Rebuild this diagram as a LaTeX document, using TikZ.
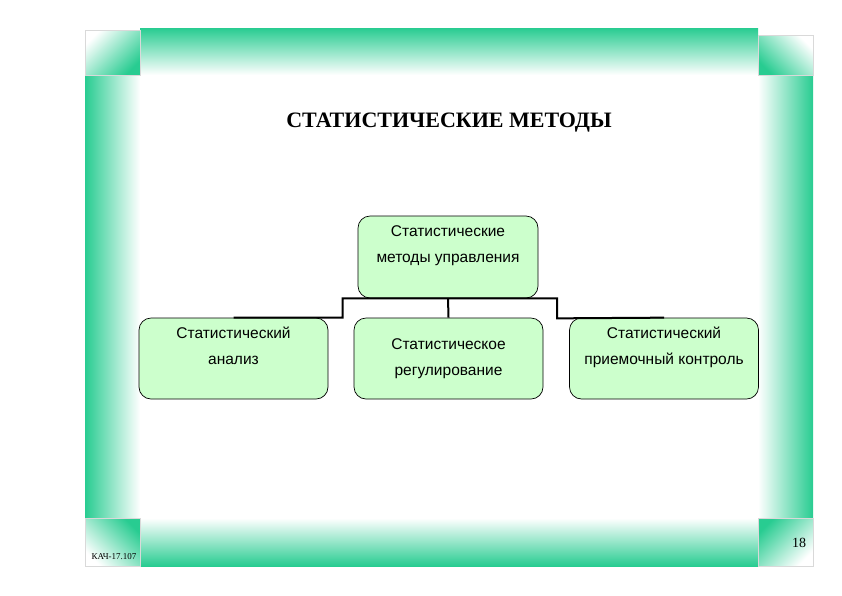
\documentclass[tikz,border=0pt]{standalone}
\usepackage{fontspec}
\setmainfont{Liberation Serif}
\setsansfont{Liberation Sans}
\usepackage{tikz}
\definecolor{framegreen}{RGB}{40,204,145}
\definecolor{boxgreen}{RGB}{204,255,204}
\tikzset{
    chart/.style={x=1pt, y=-1pt},
    chart box/.style={rounded corners=12pt, draw, fill=boxgreen, line width=0.7pt,
        align=center, font=\sffamily\fontsize{15.5}{26}\selectfont,
        minimum width=189pt, minimum height=81pt, inner sep=0pt},
    chart link/.style={line width=2pt},
    frame corner/.style={draw=black!15, line width=0.4pt},
}

\begin{document}
\begin{tikzpicture}[
        chart,
        topbox/.style={chart box, minimum width=180pt, minimum height=82pt},
        pagetext/.style={font=\fontsize{14}{16}\selectfont}
    ]
        \useasboundingbox (0,0) rectangle (842,595);

        % frame
        \shade[top color=framegreen, bottom color=white] (140,28) rectangle (758,75);
        \shade[top color=white, bottom color=framegreen] (140,518) rectangle (758,566);
        \shade[left color=framegreen, right color=white] (85,75) rectangle (140,518);
        \shade[left color=white, right color=framegreen] (758,75) rectangle (813,518);
        \shade[frame corner, top color=white, bottom color=framegreen, shading angle=45]
            (85,30) rectangle (140,75);
        \shade[frame corner, top color=white, bottom color=framegreen, shading angle=-45]
            (758,35) rectangle (813,75);
        \shade[frame corner, top color=framegreen, bottom color=white, shading angle=-45]
            (85,518) rectangle (140,566);
        \shade[frame corner, top color=framegreen, bottom color=white, shading angle=45]
            (758,518) rectangle (813,566);

        \node[font=\bfseries\fontsize{22}{26}\selectfont] (title) at (449,123)
            {СТАТИСТИЧЕСКИЕ МЕТОДЫ};

        \node[topbox] (upr) at (448,257) {Статистические\\методы управления\\\mbox{}};
        \node[chart box] (anal) at (233.5,358.5) {Статистический\\анализ\\\mbox{}};
        \node[chart box] (reg) at (448.5,358.5) {Статистическое\\регулирование};
        \node[chart box] (prie) at (664,358.5)
            {Статистический\\приемочный контроль\\\mbox{}};

        \draw[chart link] (anal.north) -- ++(109,0) |- (upr.south)
            -| ++(109,20) -- (prie.north);
        \draw[chart link] (upr.south) -- (reg.north);

        \node[pagetext] (page) at (799,543) {18};
        \node[font=\fontsize{9}{10}\selectfont] (code) at (114,557) {КАЧ-17.107};
    \end{tikzpicture}
\end{document}
